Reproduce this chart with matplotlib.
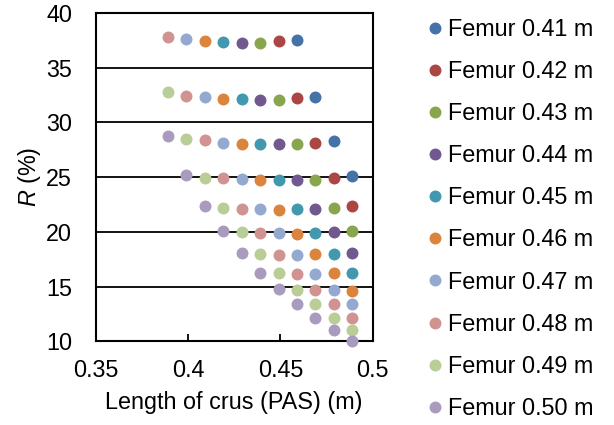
import matplotlib
matplotlib.use("Agg")
import matplotlib.pyplot as plt

plt.rcParams['font.family'] = ['Liberation Sans', 'DejaVu Sans']
plt.rcParams['mathtext.fontset'] = 'custom'
plt.rcParams['mathtext.it'] = 'Liberation Sans:italic'
plt.rcParams['mathtext.rm'] = 'Liberation Sans'

# crus length (m) for each femur series, with R (%)
femur_labels = ["Femur 0.41 m", "Femur 0.42 m", "Femur 0.43 m", "Femur 0.44 m", "Femur 0.45 m",
                "Femur 0.46 m", "Femur 0.47 m", "Femur 0.48 m", "Femur 0.49 m", "Femur 0.50 m"]
colors = ["#4572a7", "#aa4643", "#89a54e", "#71588f", "#4198af",
          "#db843d", "#93a9cf", "#d19392", "#b9cd96", "#a99bbd"]

crus_041 = [0.459, 0.469, 0.479, 0.489]
r_041 = [37.53, 32.35, 28.31, 25.13]
crus_042 = [0.449, 0.459, 0.469, 0.479, 0.489]
r_042 = [37.44, 32.17, 28.15, 24.88, 22.36]
crus_043 = [0.439, 0.449, 0.459, 0.469, 0.479, 0.489]
r_043 = [37.26, 32.04, 28.06, 24.72, 22.17, 20.06]
crus_044 = [0.429, 0.439, 0.449, 0.459, 0.469, 0.479, 0.489]
r_044 = [37.26, 32.04, 28.03, 24.70, 22.08, 19.94, 18.03]
crus_045 = [0.419, 0.429, 0.439, 0.449, 0.459, 0.469, 0.479, 0.489]
r_045 = [37.32, 32.10, 27.97, 24.70, 22.08, 19.88, 18.00, 16.23]
crus_046 = [0.409, 0.419, 0.429, 0.439, 0.449, 0.459, 0.469, 0.479, 0.489]
r_046 = [37.44, 32.13, 28.01, 24.70, 21.99, 19.82, 17.94, 16.28, 14.61]
crus_047 = [0.399, 0.409, 0.419, 0.429, 0.439, 0.449, 0.459, 0.469, 0.479, 0.489]
r_047 = [37.57, 32.29, 28.10, 24.79, 22.05, 19.88, 17.91, 16.14, 14.70, 13.44]
crus_048 = [0.389, 0.399, 0.409, 0.419, 0.429, 0.439, 0.449, 0.459, 0.469, 0.479, 0.489]
r_048 = [37.80, 32.41, 28.34, 24.88, 22.11, 19.88, 17.88, 16.14, 14.70, 13.41, 12.14]
crus_049 = [0.389, 0.399, 0.409, 0.419, 0.429, 0.439, 0.449, 0.459, 0.469, 0.479, 0.489]
r_049 = [32.75, 28.47, 24.94, 22.17, 19.94, 17.97, 16.19, 14.70, 13.41, 12.08, 11.01]
crus_050 = [0.389, 0.399, 0.409, 0.419, 0.429, 0.439, 0.449, 0.459, 0.469, 0.479, 0.489]
r_050 = [28.71, 25.22, 22.36, 20.06, 18.06, 16.23, 14.76, 13.41, 12.08, 11.01, 10.06]

crus_all = [crus_041, crus_042, crus_043, crus_044, crus_045,
            crus_046, crus_047, crus_048, crus_049, crus_050]
r_all = [r_041, r_042, r_043, r_044, r_045, r_046, r_047, r_048, r_049, r_050]

FS = 16.8

fig = plt.figure(figsize=(6.14, 4.25), dpi=100)
ax = fig.add_axes([0.156, 0.197, 0.451, 0.773])

for y in [15, 20, 25, 30, 35]:
    ax.axhline(y, color="black", linewidth=1.3, zorder=1)

for xs, ys, c, lab in zip(crus_all, r_all, colors, femur_labels):
    ax.plot(xs, ys, linestyle="none", marker="o", markersize=8.6, color=c,
            markeredgewidth=0, label=lab, zorder=3, clip_on=False)

ax.set_xlim(0.35, 0.5)
ax.set_ylim(10, 40)
ax.set_xticks([0.35, 0.4, 0.45, 0.5])
ax.set_xticklabels(["0.35", "0.4", "0.45", "0.5"])
ax.set_yticks([10, 15, 20, 25, 30, 35, 40])
ax.tick_params(axis="x", direction="in", length=5, width=1.3, labelsize=FS, pad=13)
ax.tick_params(axis="y", length=0, labelsize=FS, pad=17)
for s in ax.spines.values():
    s.set_linewidth(1.5)
    s.set_color("black")

ax.set_xlabel("Length of crus (PAS) (m)", fontsize=FS, labelpad=6)
ax.set_ylabel("$R$ (%)", fontsize=FS, labelpad=2)

fig.legend(loc="upper left", bbox_to_anchor=(0.6746, 0.98), frameon=False, fontsize=FS,
           handletextpad=0.05, labelspacing=0.82, handlelength=1.0, borderaxespad=0)

fig.savefig("out.png", dpi=100)
